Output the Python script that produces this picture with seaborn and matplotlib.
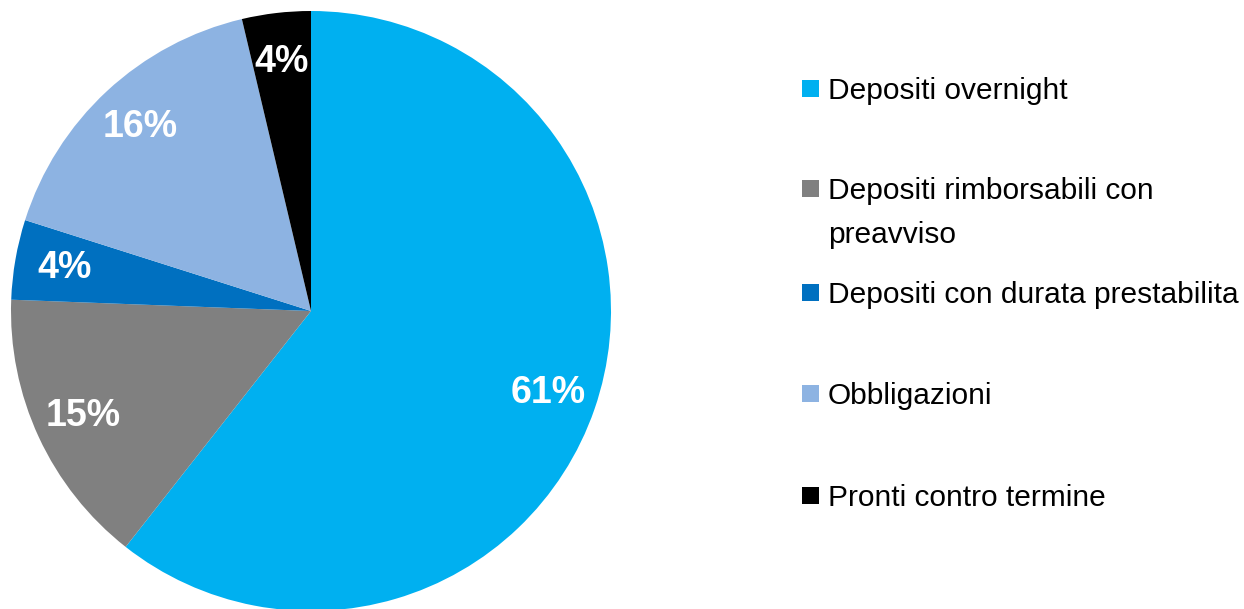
import matplotlib
matplotlib.use("Agg")
import matplotlib.pyplot as plt
from matplotlib.patches import Rectangle
import seaborn as sns

# Composition of household financial assets (percent shares)
categories = [
    "Depositi overnight",
    "Depositi rimborsabili con\npreavviso",
    "Depositi con durata prestabilita",
    "Obbligazioni",
    "Pronti contro termine",
]
shares = [60.6, 15.0, 4.3, 16.4, 3.7]
colors = ["#00B0F0", "#808080", "#0070C0", "#8DB3E2", "#000000"]

sns.set_theme(style="white")
plt.rcParams["font.family"] = ["Liberation Sans", "DejaVu Sans"]

W, H = 1244, 609
fig = plt.figure(figsize=(W / 100, H / 100), dpi=100)
fig.patch.set_facecolor("white")

# Pie: centre (311, 311) px, radius 300 px
cx, cy, r = 311, 311, 300
ax = fig.add_axes([(cx - r) / W, (H - cy - r) / H, 2 * r / W, 2 * r / H])
palette = sns.color_palette(colors)
wedges, texts, autotexts = ax.pie(
    shares,
    colors=palette,
    startangle=90,
    counterclock=False,
    radius=1.0,
    autopct=lambda p: f"{p:.0f}%",
    pctdistance=0.835,
    wedgeprops=dict(linewidth=0),
    textprops=dict(color="white", fontsize=27, fontweight="bold"),
)
ax.set_xlim(-1, 1)
ax.set_ylim(-1, 1)
ax.set_aspect("auto")
ax.axis("off")

# Legend: square marker aligned with the first line of each label
legend_rows = [88, 188, 292, 393, 495]
line_step = 44
sq = 17
for label, color, y in zip(categories, colors, legend_rows):
    fig.patches.append(Rectangle((802 / W, (H - y - sq / 2) / H), sq / W, sq / H,
                                 transform=fig.transFigure, facecolor=color,
                                 edgecolor="none"))
    for j, line in enumerate(label.split("\n")):
        fig.text(828 / W, (H - y - j * line_step) / H, line, fontsize=21.5,
                 color="black", ha="left", va="center_baseline")

fig.savefig("out.png", dpi=100, facecolor="white")
